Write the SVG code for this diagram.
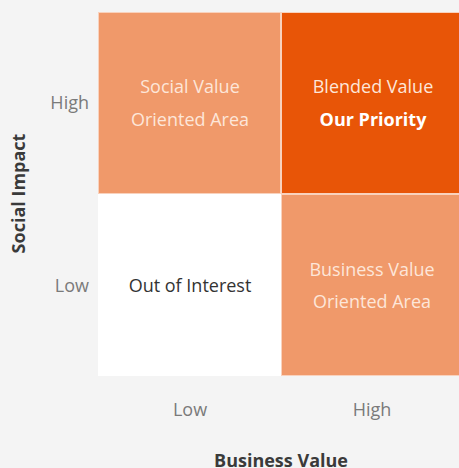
<svg xmlns="http://www.w3.org/2000/svg" width="459" height="468" viewBox="0 0 459 468">
<style>
text{font-family:"Open Sans","Noto Sans","Liberation Sans",sans-serif}
.cell{stroke:#f9d2bd;stroke-width:1}
.light{fill:#f0996a}
.dark{fill:#e85507}
.white{fill:#ffffff;stroke:#ffffff}
.ct{font-size:18px;fill:#fde6d9;text-anchor:middle}
.ctw{font-size:18px;fill:#ffffff;text-anchor:middle}
.ax{font-size:18px;fill:#7a7a7a}
.title{font-size:18px;font-weight:bold;fill:#3a3a3a;text-anchor:middle}
</style>
<rect width="459" height="468" fill="#f4f4f4"/>
<g id="q-social">
<rect class="cell light" x="98.5" y="12.5" width="182" height="181"/>
<text class="ct" x="190" y="93">Social Value</text>
<text class="ct" x="190" y="126">Oriented Area</text>
</g>
<g id="q-blended">
<rect class="cell dark" x="281.5" y="12.5" width="178" height="181"/>
<text class="ct" x="373" y="93">Blended Value</text>
<text class="ctw" x="373" y="126" font-weight="bold">Our Priority</text>
</g>
<g id="q-out">
<rect class="white" x="98.5" y="194.5" width="182" height="181"/>
<text class="ct" x="190" y="292" style="fill:#333">Out of Interest</text>
</g>
<g id="q-business">
<rect class="cell light" x="281.5" y="194.5" width="178" height="181"/>
<text class="ct" x="372" y="276">Business Value</text>
<text class="ct" x="372" y="308">Oriented Area</text>
</g>
<g id="labels">
<text class="ax" x="89" y="109" text-anchor="end">High</text>
<text class="ax" x="89" y="292" text-anchor="end">Low</text>
<text class="ax" x="190" y="416" text-anchor="middle">Low</text>
<text class="ax" x="372" y="416" text-anchor="middle">High</text>
<text class="title" x="281" y="467">Business Value</text>
<text class="title" transform="translate(25,193.5) rotate(-90)">Social Impact</text>
</g>
<g id="connectors"/>
</svg>
